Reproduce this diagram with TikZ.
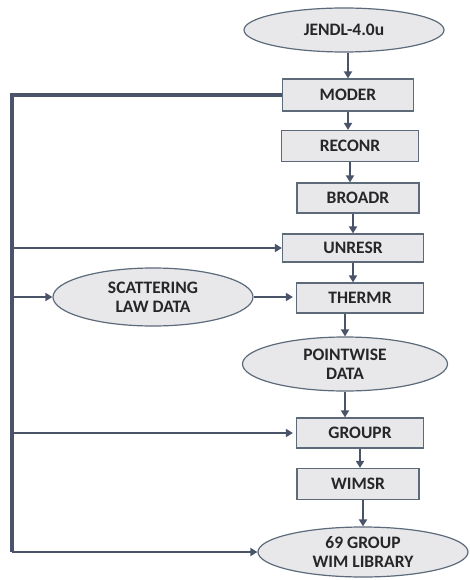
\documentclass[tikz,border=0pt]{standalone}
\usepackage{fontspec}
\setmainfont{Carlito}
\usepackage{tikz}
\usetikzlibrary{shapes.geometric,arrows.meta}
\definecolor{boxfill}{RGB}{232, 232, 235}
\definecolor{boxline}{RGB}{92, 106, 122}
\definecolor{flowline}{RGB}{74, 84, 104}

\tikzset{
  stepbox/.style={draw=boxline, fill=boxfill, line width=1.2pt, inner sep=0pt,
    font=\fontsize{17.5}{19}\selectfont\bfseries, text=black!85},
  databox/.style={ellipse, draw=boxline, fill=boxfill, line width=1.2pt, inner sep=0pt,
    align=center, font=\fontsize{17.5}{19}\selectfont\bfseries, text=black!85},
  flow/.style={draw=flowline, line width=2pt, -{Triangle[width=8pt,length=7pt]}},
  bus/.style={draw=flowline, line width=3.4pt}
}

\begin{document}
\begin{tikzpicture}[x=1pt, y=-1pt]
\useasboundingbox (0,0) rectangle (470,580);
% Main chain of NJOY modules
\node[databox, minimum width=200pt, minimum height=44pt] (jendl) at (344,30) {JENDL-4.0u};
\node[stepbox, minimum width=131pt, minimum height=32pt] (moder) at (348,95) {MODER};
\node[stepbox, minimum width=137pt, minimum height=31pt] (reconr) at (350,146) {RECONR};
\node[stepbox, minimum width=122pt, minimum height=30pt] (broadr) at (358,198) {BROADR};
\node[stepbox, minimum width=141pt, minimum height=28pt] (unresr) at (353,248) {UNRESR};
\node[stepbox, minimum width=127pt, minimum height=30pt] (thermr) at (360,298) {THERMR};
\node[databox, minimum width=200pt, minimum height=58pt] (scatlaw) at (153,297) {SCATTERING\\LAW DATA};
\node[databox, minimum width=205pt, minimum height=54pt] (pointwise) at (345,364) {POINTWISE\\DATA};
\node[stepbox, minimum width=127pt, minimum height=30pt] (groupr) at (360,433) {GROUPR};
\node[stepbox, minimum width=122pt, minimum height=31pt] (wimsr) at (358,484) {WIMSR};
\node[databox, minimum width=210pt, minimum height=50pt] (wimlib) at (363,552) {69 GROUP\\WIM LIBRARY};

% Downward flow
\draw[flow] (jendl.south -| moder) -- (moder.north);
\draw[flow] (moder.south) -- (moder.south |- reconr.north);
\draw[flow] (reconr.south) -- (reconr.south |- broadr.north);
\draw[flow] (broadr.south -| unresr) -- (unresr.north);
\draw[flow] (unresr.south) -- (unresr.south |- thermr.north);
\draw[flow] (thermr.south -| pointwise) -- (pointwise.north);
\draw[flow] (pointwise.south) -- (pointwise.south |- groupr.north);
\draw[flow] (groupr.south) -- (groupr.south |- wimsr.north);
\draw[flow] (wimsr.south -| wimlib) -- (wimlib.north);
\draw[flow, shorten >=3pt] (scatlaw.east) -- (scatlaw.east -| thermr.west);

% Return line on the left
\coordinate (bar) at (12,0);
\draw[bus] (moder.west) -- (moder.west -| bar) -- (wimlib.west -| bar);
\draw[flow] (bar |- unresr) -- (unresr.west);
\draw[flow] (bar |- scatlaw) -- (scatlaw.west);
\draw[flow, shorten >=3pt] (bar |- groupr) -- (groupr.west);
\draw[flow] (bar |- wimlib) -- (wimlib.west);
\end{tikzpicture}
\end{document}
